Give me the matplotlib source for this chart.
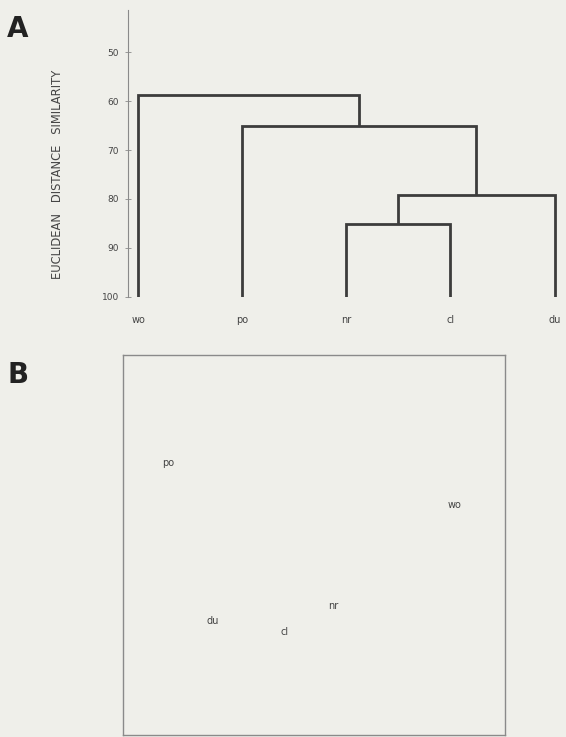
import matplotlib.pyplot as plt

# panel A: dendrogram (euclidean distance similarity)
leaves = ['wo', 'po', 'nr', 'cl', 'du']
# merges: (left, right, height) -- nodes >= 5 are earlier merges
merges = [(2, 3, 85.1), (5, 4, 79.1), (1, 6, 65.1), (0, 7, 58.7)]
yticks = [50, 60, 70, 80, 90, 100]

# panel B: ordination positions
ord_labels = ['po', 'wo', 'nr', 'du', 'cl']
ord_x = [-0.764, 0.738, 0.099, -0.529, -0.152]
ord_y = [0.432, 0.211, -0.321, -0.400, -0.458]

bg = '#efefea'
line_col = '#3c3c3c'
grey = '#8a8a8a'
txt = '#444444'

plt.rcParams['font.family'] = ['DejaVu Sans']

fig = plt.figure(figsize=(5.66, 7.37), dpi=100, facecolor=bg)

ax = fig.add_axes([0.2261, 0.5974, 0.772, 0.389])
ax.set_facecolor(bg)
pos = {i: (float(i), 100.0) for i in range(len(leaves))}
for k, (a, b, h) in enumerate(merges):
    xa, ya = pos[a]
    xb, yb = pos[b]
    ax.plot([xa, xa, xb, xb], [ya, h, h, yb], color=line_col, lw=2,
            solid_joinstyle='miter', solid_capstyle='butt')
    pos[len(leaves) + k] = ((xa + xb) / 2, h)

ax.set_xlim(-0.1, 4.1)
ax.set_ylim(100, 41.35)
ax.set_yticks(yticks)
ax.set_xticks(range(len(leaves)))
ax.set_xticklabels(leaves)
for s in ['top', 'right', 'bottom']:
    ax.spines[s].set_visible(False)
ax.spines['left'].set_color(grey)
ax.spines['left'].set_linewidth(0.8)
ax.tick_params(axis='y', direction='inout', length=5, width=0.6, color=grey,
               pad=4, labelsize=6.5, labelcolor=txt)
ax.tick_params(axis='x', length=0, pad=13, labelsize=7, labelcolor=txt)
ax.set_ylabel('EUCLIDEAN   DISTANCE   SIMILARITY', fontsize=8.3, color=txt)
ax.yaxis.set_label_coords(-0.147, 0.425)

fig.text(0.012, 0.950, 'A', fontsize=20, fontweight='bold', color='#222222')
fig.text(0.014, 0.481, 'B', fontsize=20, fontweight='bold', color='#222222')

# panel B
ax2 = fig.add_axes([0.2173, 0.0027, 0.675, 0.5156])
ax2.set_facecolor(bg)
for lab, x, y in zip(ord_labels, ord_x, ord_y):
    ax2.text(x, y, lab, ha='center', va='center', fontsize=7, color=txt)
ax2.set_xlim(-1, 1)
ax2.set_ylim(-1, 1)
ax2.set_xticks([])
ax2.set_yticks([])
for s in ax2.spines.values():
    s.set_color(grey)
    s.set_linewidth(1)

fig.savefig('out.png', dpi=100, facecolor=bg)
